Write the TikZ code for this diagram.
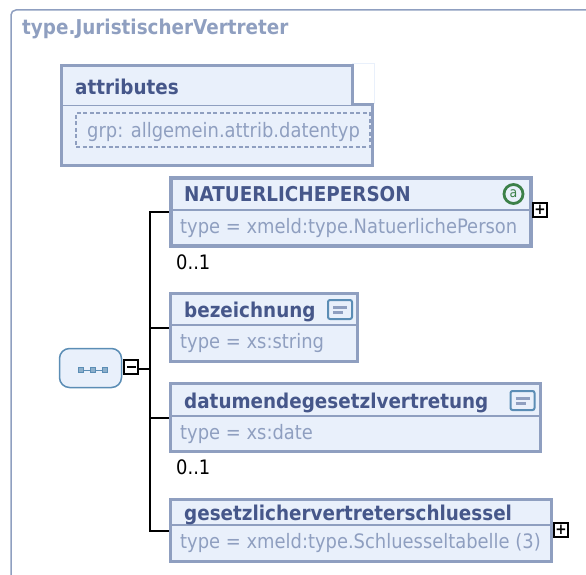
\documentclass[tikz,border=0pt]{standalone}
\usepackage{fontspec}
\setmainfont{DejaVu Sans}[FakeStretch=0.9]
\definecolor{frameblue}{HTML}{8F9FC0}
\definecolor{titleblue}{HTML}{46578A}
\definecolor{paleblue}{HTML}{E9F0FB}
\definecolor{iconblue}{HTML}{5B8DB5}
\definecolor{attrgreen}{HTML}{3C8048}
\tikzset{
    elembox/.style={draw=frameblue,line width=3.5pt,fill=paleblue,inner sep=0pt},
    divider/.style={draw=frameblue,line width=1.8pt},
    title/.style={anchor=base west,inner sep=0pt,text=titleblue,font=\fontsize{20.4}{21}\selectfont\bfseries},
    typetext/.style={anchor=base west,inner sep=0pt,text=frameblue,font=\fontsize{19.9}{20}\selectfont},
    card/.style={anchor=base west,inner sep=0pt,font=\fontsize{19.9}{20}\selectfont},
    toggle/.style={draw=black,line width=2pt,fill=white,minimum size=14pt,inner sep=0pt,font=\fontsize{15}{15}\selectfont\bfseries},
    docicon/.style={draw=iconblue,line width=2pt,fill=paleblue,rounded corners=2pt,minimum width=24pt,minimum height=19pt,inner sep=0pt},
    docline/.style={draw=frameblue,line width=3pt},
    seqdot/.style={draw=iconblue,fill=iconblue!70,minimum size=5pt,inner sep=0pt},
    link/.style={draw=black,line width=2pt},
}
\begin{document}
\begin{tikzpicture}[x=1pt,y=-1pt]
    \useasboundingbox (0,0) rectangle (586,575);

    \coordinate (framebottom) at (11,575);
    \coordinate (framecorner) at (11,10);
    \coordinate (frameright) at (586,10);
    \draw[frameblue,line width=1.5pt,rounded corners=5pt] (framebottom) -- (framecorner) -- (frameright);
    \node[title,text=frameblue] (typename) at (22,35) {type.JuristischerVertreter};

    % attributes
    \node[draw=paleblue,line width=1pt,fill=white,minimum width=22pt,minimum height=40pt,inner sep=0pt] (attrcorner) at (363.5,84) {};
    \node[elembox,line width=3pt,minimum width=311.5pt,minimum height=60.5pt] (attrbody) at (216.75,135.25) {};
    \node[fill=paleblue,inner sep=0pt,minimum width=290.5pt,minimum height=39.5pt] (attrhead) at (206.75,85.75) {};
    \draw[frameblue,line width=3pt] (attrhead.south west) -- (attrhead.north west) -- (attrhead.north east) -- (attrhead.south east);
    \node[title] (attrtitle) at (75,95) {attributes};
    \node[draw=frameblue,dash pattern=on 4pt off 2.5pt,line width=1.2pt,minimum width=294pt,minimum height=34pt,inner sep=0pt] (attrgroup) at (223,130) {};
    \node[typetext] (attrtext) at (87,138) {grp: allgemein.attrib.datentyp};

    % sequence
    \node[draw=iconblue,line width=1.5pt,fill=paleblue,rounded corners=10pt,minimum width=62pt,minimum height=39pt,inner sep=0pt] (seq) at (90.5,368) {};
    \node[seqdot] (seqa) at (81,370) {};
    \node[seqdot] (seqb) at (93,370) {};
    \node[seqdot] (seqc) at (104.5,370) {};
    \draw[iconblue,line width=1pt] (seqa) -- (seqb);
    \draw[iconblue,line width=1pt] (seqb) -- (seqc);
    \node[toggle] (seqtoggle) at (131,367) {};
    \node[inner sep=0pt,minimum width=9pt,minimum height=2pt,fill=black] (seqminus) at (131,367) {};

    % elements
    \node[elembox,minimum width=360pt,minimum height=68pt] (person) at (351,212) {};
    \draw[divider] (person.west |- 0,210) -- (person.east |- 0,210);
    \node[title] (persontitle) at (184,201) {NATUERLICHEPERSON};
    \node[typetext] (persontype) at (180,233) {type = xmeld:type.NatuerlichePerson};
    \node[draw=attrgreen,line width=2.8pt,circle,minimum size=19pt,inner sep=0pt,text=attrgreen,font=\fontsize{14}{14}\selectfont] (personattr) at (513.5,194) {a};
    \node[toggle] (persontoggle) at (540,210) {+};
    \node[card] (personcard) at (176,269) {0..1};

    \node[elembox,minimum width=187pt,minimum height=68pt] (bezeichnung) at (264,327.5) {};
    \draw[divider] (bezeichnung.west |- 0,325) -- (bezeichnung.east |- 0,325);
    \node[title] (beztitle) at (184,317) {bezeichnung};
    \node[typetext] (beztype) at (180,348) {type = xs:string};
    \node[docicon] (bezdoc) at (340,309.5) {};
    \draw[docline] (bezdoc.west) ++(6,-2.5) coordinate (bezdoca) -- ++(14,0) coordinate (bezdocb);
    \draw[docline] (bezdoc.west) ++(6,2.5) coordinate (bezdocc) -- ++(10,0) coordinate (bezdocd);

    \node[elembox,minimum width=370pt,minimum height=68pt] (datum) at (355.5,417.5) {};
    \draw[divider] (datum.west |- 0,416) -- (datum.east |- 0,416);
    \node[title] (datumtitle) at (184,408) {datumendegesetzlvertretung};
    \node[typetext] (datumtype) at (180,439) {type = xs:date};
    \node[docicon] (datumdoc) at (522.5,400.5) {};
    \draw[docline] (datumdoc.west) ++(6,-2.5) coordinate (datumdoca) -- ++(14,0) coordinate (datumdocb);
    \draw[docline] (datumdoc.west) ++(6,2.5) coordinate (datumdocc) -- ++(10,0) coordinate (datumdocd);
    \node[card] (datumcard) at (176,474) {0..1};

    \node[elembox,minimum width=381pt,minimum height=62pt] (schluessel) at (361,530.5) {};
    \draw[divider] (schluessel.west |- 0,525) -- (schluessel.east |- 0,525);
    \node[title] (schltitle) at (184,520) {gesetzlichervertreterschluessel};
    \node[typetext] (schltype) at (180,548) {type = xmeld:type.Schluesseltabelle (3)};
    \node[toggle] (schltoggle) at (561,530) {+};

    % links
    \coordinate (trunktop) at (149.5,212);
    \coordinate (trunkmid) at (149.5,369);
    \coordinate (trunkbez) at (149.5,327.5);
    \coordinate (trunkdat) at (149.5,417.5);
    \coordinate (trunkend) at (149.5,530.5);
    \draw[link] (seqtoggle.east |- trunkmid) -- (trunkmid);
    \draw[link,line cap=rect] (trunktop) -- (trunkend);
    \draw[link] (trunktop) -- (person.west);
    \draw[link] (trunkbez) -- (bezeichnung.west);
    \draw[link] (trunkdat) -- (datum.west);
    \draw[link] (trunkend) -- (schluessel.west);
\end{tikzpicture}
\end{document}
